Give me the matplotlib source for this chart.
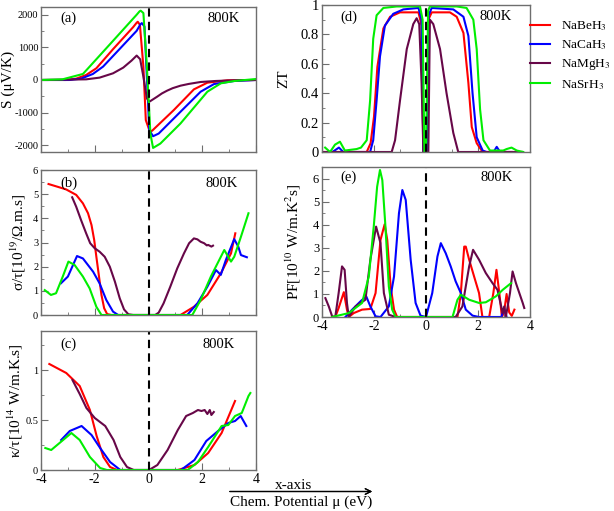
import numpy as np
import matplotlib
matplotlib.use('Agg')
import matplotlib.pyplot as plt
from matplotlib.ticker import MultipleLocator, FormatStrFormatter
from matplotlib.lines import Line2D

plt.rcParams['font.family'] = ['Liberation Serif', 'DejaVu Serif']
plt.rcParams['mathtext.fontset'] = 'stix'
plt.rcParams['axes.unicode_minus'] = False

names = ['NaBeH$_3$', 'NaCaH$_3$', 'NaMgH$_3$', 'NaSrH$_3$']
colors = ['#ff0000', '#0000ff', '#670748', '#00ee00']

# (a) Seebeck S (uV/K)
s_be_x = [-4, -3.07, -2.69, -2.32, -1.94, -1.32, -0.57, -0.44, -0.40, -0.32, -0.19, -0.10, 0.04, 0.13, 0.94, 1.69, 2.19, 2.94, 4]
s_be_y = [0, 0, 41, 153, 358, 941, 1616, 1750, 1779, 1687, 409, -1227, -1554, -1554, -920, -286, -82, -10, 0]
s_ca_x = [-4, -2.95, -2.51, -2.07, -1.69, -1.07, -0.44, -0.30, -0.25, -0.15, -0.05, 0.03, 0.17, 0.38, 1.19, 1.94, 2.44, 3.19, 4]
s_ca_y = [0, 0, 41, 184, 409, 951, 1503, 1700, 1738, 1636, -102, -1534, -1718, -1636, -971, -358, -123, -31, 0]
s_mg_x = [-4, -2.32, -1.82, -1.32, -0.94, -0.63, -0.44, -0.31, -0.19, -0.06, 0.03, 0.32, 0.5, 0.69, 0.9, 1.19, 1.5,
          1.94, 2.5, 3.19, 4]
s_mg_y = [0, 20, 72, 204, 378, 593, 746, 634, 102, -562, -665, -511, -410, -327, -250, -174, -120,
          -61, -30, -10, 0]
s_sr_x = [-4, -3.20, -2.44, -2.19, -1.32, -0.44, -0.33, -0.29, -0.19, -0.06, 0.07, 0.17, 0.44, 1.19, 2.19, 2.69, 3.19, 4]
s_sr_y = [0, 20, 184, 409, 1196, 1994, 2100, 2117, 2045, 409, -1636, -2076, -1943, -1329, -358, -102, -31, 30]

# (b) sigma/tau [1e19 /Ohm.m.s]
c_be_x = [-3.72, -3.07, -2.69, -2.44, -2.25, -2.12, -2.02, -1.94, -1.85, -1.75, -1.65, -1.54, -1.38,
          1.19, 1.69, 2.19, 2.69, 3.07, 3.23]
c_be_y = [5.42, 5.20, 4.97, 4.62, 4.21, 3.72, 3.10, 2.41, 1.66, 0.83, 0.28, 0.04, 0,
          0, 0.34, 0.83, 1.72, 2.55, 3.38]
c_ca_x = [-3.26, -3.0, -2.66, -2.44, -2.06, -1.82, -1.57, -1.32, -1.13, 1.44, 1.82, 2.19, 2.51, 2.69, 2.88, 3.19, 3.34, 3.44, 3.66]
c_ca_y = [1.31, 1.59, 2.44, 2.34, 1.79, 1.31, 0.62, 0.14, 0, 0, 0.48, 1.17, 1.86, 1.66, 2.28, 3.14, 2.83, 2.48, 2.39]
c_mg_x = [-2.84, -2.69, -2.51, -2.32, -2.17, -2.0, -1.82, -1.63, -1.44, -1.25, -1.07, -0.91, -0.75, -0.57,
          0.25, 0.38, 0.56, 0.81, 1.07, 1.32, 1.51, 1.69,
          1.82, 1.94, 2.07, 2.17, 2.22, 2.29, 2.34, 2.40]
c_mg_y = [4.87, 4.48, 3.93, 3.38, 2.97, 2.76, 2.62, 2.41, 2.0, 1.38, 0.69, 0.23, 0.03, 0,
          0, 0.1, 0.48, 1.17, 1.93, 2.55, 2.97, 3.17,
          3.13, 3.03, 2.97, 2.88, 2.9, 2.86, 2.83, 2.87]
c_sr_x = [-3.86, -3.63, -3.44, -3.19, -2.98, -2.75, -2.44, -2.19, -1.94, -1.75, 1.63, 1.94, 2.32, 2.82, 3.07, 3.19, 3.44, 3.72]
c_sr_y = [1.03, 0.83, 0.9, 1.59, 2.21, 2.07, 1.59, 1.1, 0.34, 0, 0, 0.62, 1.59, 2.69, 2.21, 2.41, 3.24, 4.21]

# (c) kappa/tau [1e14 W/m.K.s]
k_be_x = [-3.69, -3.06, -2.56, -2.18, -1.93, -1.68, -1.43, -1.17, 1.09, 1.71, 2.22, 2.72, 3.22]
k_be_y = [1.06, 0.97, 0.84, 0.60, 0.34, 0.13, 0.03, 0, 0, 0.05, 0.17, 0.37, 0.69]
k_ca_x = [-3.25, -2.93, -2.49, -2.12, -1.80, -1.43, -1.05, 1.21, 1.71, 2.15, 2.59, 2.97, 3.22, 3.43, 3.64]
k_ca_y = [0.30, 0.39, 0.44, 0.35, 0.22, 0.08, 0, 0, 0.10, 0.29, 0.39, 0.47, 0.49, 0.54, 0.44]
k_mg_x = [-2.83, -2.56, -2.31, -2.0, -1.61, -1.30, -1.05, -0.80, -0.55, 0.02, 0.33, 0.71, 1.09, 1.40, 1.65,
          1.84, 1.97, 2.09, 2.19, 2.28, 2.34, 2.43]
k_mg_y = [0.90, 0.76, 0.62, 0.52, 0.44, 0.30, 0.13, 0.03, 0, 0, 0.05, 0.20, 0.40, 0.54, 0.57,
          0.60, 0.59, 0.60, 0.56, 0.60, 0.55, 0.58]
k_sr_x = [-3.84, -3.62, -3.31, -2.87, -2.56, -2.18, -1.80, -1.55, 1.46, 1.84, 2.22, 2.72, 2.97, 3.22, 3.47, 3.72, 3.79]
k_sr_y = [0.22, 0.20, 0.27, 0.37, 0.30, 0.13, 0.02, 0, 0, 0.08, 0.23, 0.44, 0.45, 0.54, 0.57, 0.74, 0.77]

# (d) ZT
z_be_x = [-4, -2.28, -2.13, -2.0, -1.87, -1.64, -1.38, -1.0, -0.29, -0.17, -0.10, 0.05, 0.09, 0.22, 0.92, 1.18,
          1.44, 1.63, 1.76, 1.95, 2.14, 2.21, 3.7]
z_be_y = [0, 0, 0.06, 0.24, 0.58, 0.84, 0.92, 0.95, 0.95, 0.86, 0, 0, 0.90, 0.95, 0.95, 0.92,
          0.81, 0.47, 0.17, 0.06, 0.01, 0, 0]
z_ca_x = [-3.6, -3.35, -3.18, -3.0, -2.15, -2.03, -1.90, -1.77, -1.58, -1.26, -0.87, -0.29, -0.17, -0.10, 0.05,
          0.10, 0.22, 1.05, 1.44, 1.63, 1.79, 1.95, 2.18, 2.33, 2.6, 2.72, 2.85, 3.3]
z_ca_y = [0, 0.03, 0, 0, 0, 0.08, 0.35, 0.65, 0.86, 0.94, 0.97, 0.98, 0.90, 0, 0,
          0.93, 0.98, 0.97, 0.92, 0.79, 0.40, 0.10, 0.01, 0, 0, 0.035, 0, 0]
z_mg_x = [-4, -1.32, -1.19, -1.0, -0.74, -0.49, -0.36, -0.26, -0.17, -0.10, 0.09, 0.15, 0.28, 0.54, 0.79, 1.05, 1.24, 3.7]
z_mg_y = [0, 0, 0.08, 0.35, 0.70, 0.87, 0.91, 0.87, 0.47, 0, 0, 0.90, 0.87, 0.70, 0.40, 0.13, 0, 0]
z_sr_x = [-3.88, -3.69, -3.5, -3.31, -3.12, -2.67, -2.5, -2.28, -2.15, -2.03, -1.90, -1.64, -1.13, -0.23, -0.13,
          -0.06, 0.0, 0.08, 0.15, 1.18, 1.56, 1.82, 1.95, 2.08, 2.21, 2.46, 2.72, 2.97, 3.1, 3.29, 3.49, 3.74]
z_sr_y = [0.03, 0, 0.05, 0.07, 0.01, 0.02, 0.03, 0.08, 0.35, 0.77, 0.93, 0.98, 0.99, 0.99, 0.90,
          -0.02, -0.02, 0.96, 0.99, 0.99, 0.98, 0.90, 0.70, 0.29, 0.08, 0.01, 0.01, 0.01, 0.02, 0.03, 0.01, 0]

# (e) PF [1e10 W/m.K^2.s]
p_be_x = [-3.62, -3.49, -3.36, -3.16, -3.04, -2.97, -2.78, -2.46, -2.14, -1.94, -1.75, -1.59, -1.49, -1.36, -1.23,
          -1.11, 1.21, 1.34, 1.47, 1.53, 1.66, 1.85, 2.04, 2.17, 2.43, 2.59, 2.71, 2.82, 2.92, 3.0, 3.1, 3.2, 3.3, 3.40]
p_be_y = [0, 0, 0.39, 1.08, 0.32, 0, 0.17, 0.32, 0.35, 1.04, 3.35, 4.03, 3.35, 1.33, 0.32,
          0, 0, 1.04, 3.06, 3.06, 2.49, 1.76, 1.04, 0, 0, 1.04, 2.05, 1.04, 0, 0.2, 1.0, 0.2, 0.05, 0.32]
p_ca_x = [-3.10, -2.84, -2.52, -2.30, -2.14, -1.94, -1.75, -1.43, -1.23, -1.04, -0.91, -0.78, -0.59, -0.40, -0.21,
          0.0, 0.24, 0.44, 0.57, 0.76, 0.95, 1.14, 1.34, 1.53, 1.79, 2.04, 2.43, 2.9, 3.0, 3.1]
p_ca_y = [0, 0.32, 0.68, 0.9, 0.46, 0.03, 0, 0.46, 1.76, 4.51, 5.52, 5.09, 2.49, 0.61, 0.06,
          0, 1.04, 2.63, 3.21, 2.77, 2.20, 1.55, 1.04, 0.32, 0.06, 0, 0, 0, 0.4, 0]
p_mg_x = [-3.87, -3.74, -3.61, -3.49, -3.36, -3.23, -3.13, -3.04, -2.97, -2.71, -2.33, -2.14, -1.92, -1.75, -1.62,
          -1.43, -1.17, 1.14, 1.40, 1.66, 1.81, 2.04, 2.30, 2.56, 2.75, 2.95, 3.01, 3.07, 3.23, 3.33, 3.46, 3.72, 3.78]
p_mg_y = [0.82, 0.46, 0.03, 0, 1.04, 2.20, 2.05, 0.61, 0, 0.46, 0.75, 2.49, 3.93, 3.21, 1.04,
          0.1, 0, 0, 0.46, 2.20, 2.92, 2.49, 1.91, 1.47, 1.18, 0.17, 0.46, 0, 1.04, 1.98, 1.47, 0.61, 0.39]
p_sr_x = [-3.61, -2.97, -2.46, -2.20, -2.01, -1.88, -1.77, -1.68, -1.56, -1.43, -1.30, -1.17, 1.02, 1.21, 1.34,
          1.66, 2.04, 2.30, 2.69, 2.95, 3.27]
p_sr_y = [0, 0.17, 0.61, 1.76, 3.93, 5.66, 6.39, 5.95, 3.93, 1.33, 0.32, 0, 0, 0.75, 0.97,
          0.75, 0.61, 0.64, 0.90, 1.18, 1.47]

panel_a = [(s_be_x, s_be_y), (s_ca_x, s_ca_y), (s_mg_x, s_mg_y), (s_sr_x, s_sr_y)]
panel_b = [(c_be_x, c_be_y), (c_ca_x, c_ca_y), (c_mg_x, c_mg_y), (c_sr_x, c_sr_y)]
panel_c = [(k_be_x, k_be_y), (k_ca_x, k_ca_y), (k_mg_x, k_mg_y), (k_sr_x, k_sr_y)]
panel_d = [(z_be_x, z_be_y), (z_ca_x, z_ca_y), (z_mg_x, z_mg_y), (z_sr_x, z_sr_y)]
panel_e = [(p_be_x, p_be_y), (p_ca_x, p_ca_y), (p_mg_x, p_mg_y), (p_sr_x, p_sr_y)]

W, H = 614, 511
fig = plt.figure(figsize=(W / 100, H / 100), dpi=100)


def box(l, t, r, b):
    return [l / W, 1 - b / H, (r - l) / W, (b - t) / H]


spine_col = '#6e6e6e'


def setup(ax, data, ylim, ymaj, ymin, ylabel, lab_x, tag, tag_y, k_x, ytick_fs, show_x=False):
    for (x, y), c in zip(data, colors):
        ax.plot(x, y, color=c, lw=1.5)
    ax.axvline(0, color='k', ls=(0, (4, 2.5)), lw=1.5)
    ax.set_xlim(-4, 4)
    ax.set_ylim(*ylim)
    ax.xaxis.set_major_locator(MultipleLocator(2))
    ax.xaxis.set_minor_locator(MultipleLocator(1))
    ax.yaxis.set_major_locator(MultipleLocator(ymaj))
    ax.yaxis.set_minor_locator(MultipleLocator(ymin))
    ax.xaxis.set_major_formatter(FormatStrFormatter('%g'))
    ax.yaxis.set_major_formatter(FormatStrFormatter('%g'))
    ax.tick_params(which='both', direction='in', color=spine_col, labelsize=ytick_fs, pad=2)
    ax.tick_params(which='major', length=5)
    ax.tick_params(which='minor', length=2.5)
    ax.tick_params(axis='x', labelsize=10)
    if not show_x:
        ax.tick_params(axis='x', labelbottom=False)
    for sp in ax.spines.values():
        sp.set_color(spine_col)
        sp.set_linewidth(1.0)
    ax.set_ylabel(ylabel, fontsize=11)
    ax.yaxis.set_label_coords(lab_x, 0.5)
    ax.text(0.088, tag_y, tag, transform=ax.transAxes, fontsize=10.5, va='center')
    ax.text(k_x, tag_y, '800K', transform=ax.transAxes, fontsize=10.5, va='center')


ax_a = fig.add_axes(box(41, 7, 256, 152))
setup(ax_a, panel_a, (-2200, 2230), 1000, 500, 'S (μV/K)', -0.12, '(a)', 0.92, 0.775, 7.5)
ax_b = fig.add_axes(box(41, 170, 256, 315))
setup(ax_b, panel_b, (0, 6), 1, 0.5, 'σ/τ[10$^{19}$/Ω.m.s]', -0.06, '(b)', 0.91, 0.765, 7.5)
ax_c = fig.add_axes(box(41, 331, 256, 470))
setup(ax_c, panel_c, (0, 1.39), 0.5, 0.25, 'κ/τ[10$^{14}$ W/m.K.s]', -0.075, '(c)', 0.905, 0.75, 7.5,
      show_x=True)
ax_d = fig.add_axes(box(322, 5, 530, 152))
setup(ax_d, panel_d, (0, 1), 0.2, 0.1, 'ZT', -0.15, '(d)', 0.92, 0.755, 10.5)
ax_e = fig.add_axes(box(322, 167, 530, 317))
setup(ax_e, panel_e, (0, 6.52), 1, 0.5, 'PF[10$^{10}$ W/m.K$^2$s]', -0.09, '(e)', 0.93, 0.76, 9,
      show_x=True)

handles = [Line2D([], [], color=c, lw=1.5) for c in colors]
fig.legend(handles, names, loc='upper left', bbox_to_anchor=(525 / W, 1 - 14 / H), frameon=False,
           fontsize=9.5, handlelength=1.5, handletextpad=0.8, labelspacing=0.4, borderaxespad=0)

fig.text(293 / W, 1 - 485 / H, 'x-axis', ha='center', va='center', fontsize=11)
fig.add_artist(plt.annotate('', xy=(375 / W, 1 - 491.5 / H), xytext=(227 / W, 1 - 491.5 / H),
                            xycoords='figure fraction', textcoords='figure fraction',
                            arrowprops=dict(arrowstyle='->', lw=0.9, color='k')))
fig.text(301 / W, 1 - 502 / H, 'Chem. Potential μ (eV)', ha='center', va='center', fontsize=11)

fig.savefig('out.png', dpi=100)
